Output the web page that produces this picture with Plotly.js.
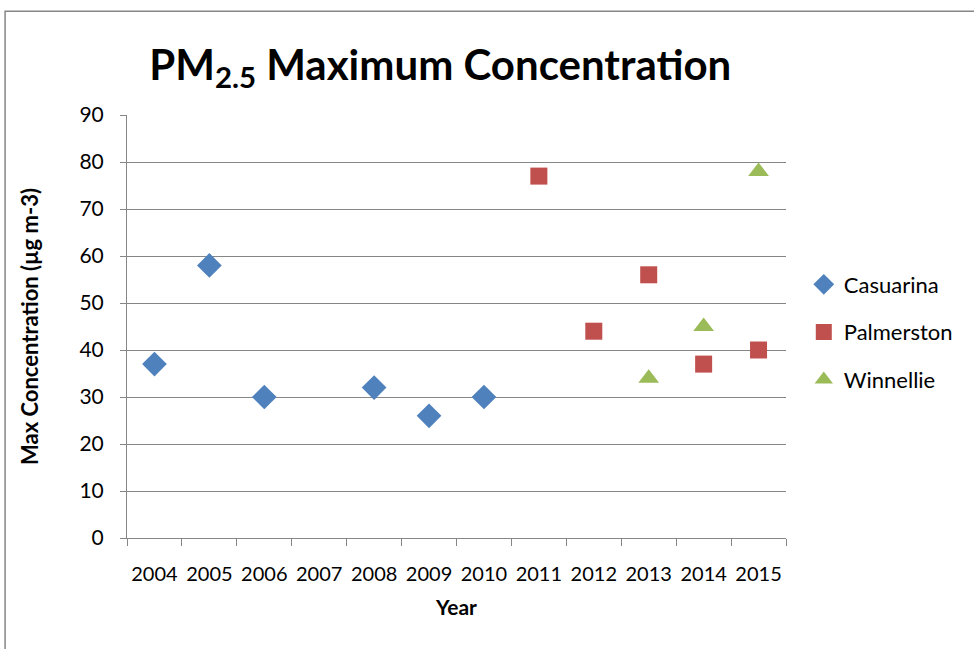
<!DOCTYPE html>
<html><head><meta charset="utf-8">
<script src="https://cdn.plot.ly/plotly-3.0.1.min.js"></script>
<style>body{margin:0;background:#fff}#c{width:974px;height:649px}</style>
</head><body><div id="c"></div>
<script>
const years = ["2004","2005","2006","2007","2008","2009","2010","2011","2012","2013","2014","2015"];
const casYears = ["2004","2005","2006","2008","2009","2010"];
const casVals = [37,58,30,32,26,30];
const palYears = ["2011","2012","2013","2014","2015"];
const palVals = [77,44,56,37,40];
const winYears = ["2013","2014","2015"];
const winVals = [34,45,78];

const font = "Lato, 'Open Sans', sans-serif";
const traces = [
  {x: casYears, y: casVals, name: "Casuarina", type: "scatter", mode: "markers", legendgroup: "a",
   marker: {symbol: "diamond", size: 19, color: "#4F81BD"}},
  {x: palYears, y: palVals, name: "Palmerston", type: "scatter", mode: "markers", legendgroup: "b",
   marker: {symbol: "square", size: 17, color: "#C0504D"}},
  {x: winYears, y: winVals, name: "Winnellie", type: "scatter", mode: "markers", legendgroup: "c",
   marker: {symbol: "triangle-up", size: 18, color: "#9BBB59"}}
];
const layout = {
  width: 974, height: 649,
  margin: {l: 127, r: 188, t: 115, b: 111},
  paper_bgcolor: "#fff", plot_bgcolor: "#fff",
  font: {family: font, color: "#000", size: 21},
  title: {text: "<b>PM<sub>2.5</sub> Maximum Concentration</b>", x: 0.452, xref: "container",
          y: 0.9, yref: "container", yanchor: "middle", font: {size: 42, family: font}},
  xaxis: {type: "category", categoryorder: "array", categoryarray: years, range: [-0.5, 11.5],
          tickson: "boundaries", ticks: "outside", ticklen: 7, tickcolor: "#868686", tickangle: 0,
          showline: true, linecolor: "#868686", linewidth: 1, showgrid: false, zeroline: false,
          tickfont: {size: 20}, ticklabelstandoff: 18, fixedrange: true,
          title: {text: "<b>Year</b>", font: {size: 21}, standoff: 16}},
  yaxis: {range: [0, 90], dtick: 10, ticks: "outside", ticklen: 6, tickcolor: "#868686",
          showline: true, linecolor: "#868686", showgrid: true, gridcolor: "#868686", gridwidth: 1,
          zeroline: false, tickfont: {size: 21}, ticklabelstandoff: 12,
          title: {text: "<b>Max Concentration (µg m-3)</b>", font: {size: 22}, standoff: 34}},
  legend: {x: 1.027, y: 0.487, xanchor: "left", yanchor: "middle", font: {size: 22},
           tracegroupgap: 16, bgcolor: "rgba(0,0,0,0)", itemwidth: 30},
  shapes: [{type: "rect", xref: "paper", yref: "paper", x0: -0.185, x1: 1.5, y0: -0.5, y1: 1.245,
            line: {color: "#868686", width: 1.5}}],
  showlegend: true
};
Plotly.newPlot("c", traces, layout, {displayModeBar: false, staticPlot: true});
</script></body></html>
